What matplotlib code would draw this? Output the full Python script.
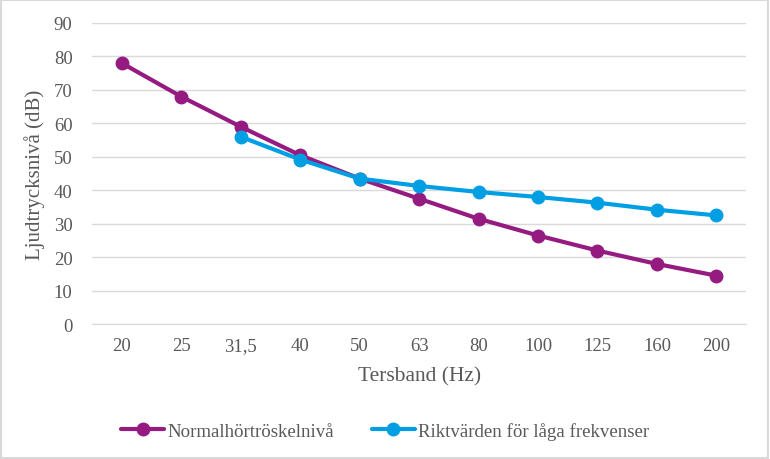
import matplotlib
matplotlib.use("Agg")
import matplotlib.pyplot as plt
import numpy as np

# data
bands = ['20', '25', '31,5', '40', '50', '63', '80', '100', '125', '160', '200']
normal = [78, 68, 59, 50.5, 43.5, 37.5, 31.5, 26.5, 22, 18, 14.5]
rikt = [np.nan, np.nan, 56, 49.2, 43.5, 41.3, 39.5, 38, 36.3, 34.2, 32.5]

purple = '#951B81'
blue = '#009FE3'
grey_txt = '#595959'

plt.rcParams['font.family'] = ['Liberation Serif', 'DejaVu Serif']

fig = plt.figure(figsize=(7.7, 4.6), dpi=100)
ax = fig.add_axes([0.1195, 0.293, 0.8495, 0.655])

x = np.arange(len(bands))
ax.plot(x, normal, color=purple, lw=3, marker='o', ms=9, label='Normalhörtröskelnivå',
        solid_capstyle='round', zorder=3)
ax.plot(x, rikt, color=blue, lw=3, marker='o', ms=9, label='Riktvärden för låga frekvenser',
        solid_capstyle='round', zorder=4)

ax.set_xlim(-0.5, len(bands) - 0.5)
ax.set_ylim(0, 90)
ax.set_yticks(range(0, 91, 10))
ax.set_xticks(x)
ax.set_xticklabels(bands)
ax.grid(axis='y', color='#d9d9d9', lw=1)
ax.set_axisbelow(True)
for s in ['top', 'right', 'left']:
    ax.spines[s].set_visible(False)
ax.spines['bottom'].set_color('#d9d9d9')
ax.tick_params(axis='both', length=0, labelsize=13.5, colors=grey_txt, pad=9)
ax.tick_params(axis='y', pad=14)

ax.set_xlabel('Tersband (Hz)', fontsize=15.5, color=grey_txt, labelpad=9)
ax.set_ylabel('Ljudtrycksnivå (dB)', fontsize=15, color=grey_txt, labelpad=6)

fig.legend(loc='lower center', bbox_to_anchor=(0.5, 0.005), ncol=2, frameon=False,
           fontsize=13.6, labelcolor=grey_txt, handlelength=2.3, columnspacing=2.0,
           handletextpad=0.15)

# light border round the chart
fig.patches.append(plt.Rectangle((0.001, 0.002), 0.997, 0.996, transform=fig.transFigure,
                                 fill=False, edgecolor='#d9d9d9', lw=1.5))

fig.savefig('out.png', dpi=100)
